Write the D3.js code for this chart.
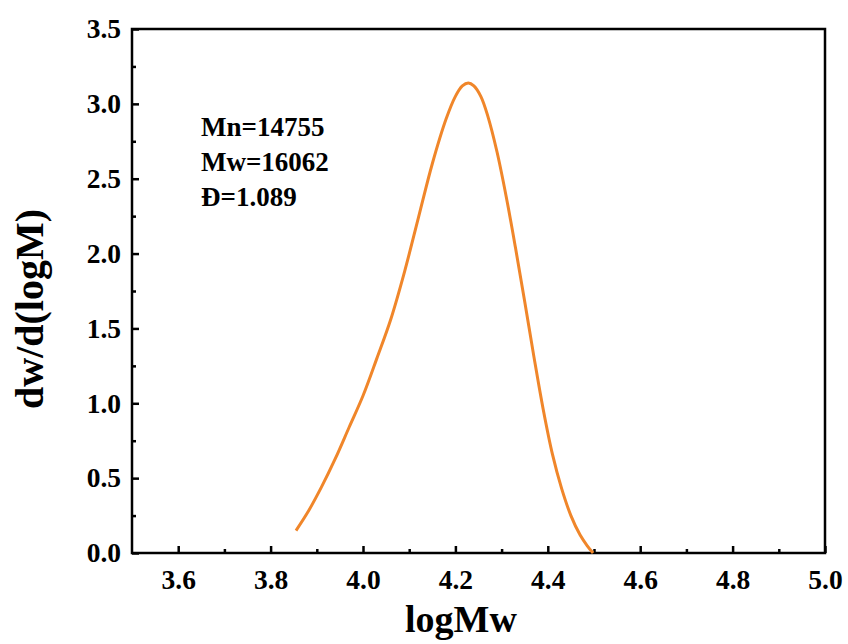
<!DOCTYPE html>
<html>
<head>
<meta charset="utf-8">
<script src="https://cdn.jsdelivr.net/npm/d3@7"></script>
<style>
  body { margin: 0; background: #fff; }
  svg { display: block; font-family: "Liberation Serif", "Times New Roman", serif; font-weight: bold; }
</style>
</head>
<body>
<svg id="chart" width="848" height="644"></svg>
<script>
// Data
const logMw = [3.855, 3.88, 3.91, 3.94, 3.97, 4.00, 4.03, 4.06, 4.09, 4.12, 4.15, 4.18, 4.20, 4.215, 4.228, 4.24, 4.255, 4.27, 4.29, 4.31, 4.33, 4.35, 4.37, 4.39, 4.41, 4.43, 4.45, 4.47, 4.485, 4.498];
const dwdlogM = [0.15, 0.27, 0.44, 0.63, 0.84, 1.05, 1.30, 1.56, 1.88, 2.24, 2.60, 2.90, 3.05, 3.12, 3.14, 3.12, 3.05, 2.92, 2.68, 2.38, 2.04, 1.68, 1.31, 0.96, 0.66, 0.43, 0.25, 0.12, 0.05, 0.0];
const xTicks = [3.6, 3.8, 4.0, 4.2, 4.4, 4.6, 4.8, 5.0];
const xMinor = [3.7, 3.9, 4.1, 4.3, 4.5, 4.7, 4.9];
const yTicks = [0.0, 0.5, 1.0, 1.5, 2.0, 2.5, 3.0, 3.5];
const yMinor = [0.25, 0.75, 1.25, 1.75, 2.25, 2.75, 3.25];
const annotations = ["Mn=14755", "Mw=16062", "Đ=1.089"];
const xTitle = "logMw";
const yTitle = "dw/d(logM)";

const svg = d3.select("#chart");
const m = { left: 132, right: 23, top: 29, bottom: 91 };
const W = 848, H = 644;
const x = d3.scaleLinear().domain([3.5, 5.0]).range([m.left, W - m.right]);
const y = d3.scaleLinear().domain([0, 3.5]).range([H - m.bottom, m.top]);

const tickFont = 27.5;

// minor ticks
svg.append("g").attr("transform", `translate(0,${y(0)})`)
  .call(d3.axisBottom(x).tickValues(xMinor).tickSize(-4).tickFormat(""))
  .call(g => g.select(".domain").remove())
  .call(g => g.selectAll("line").attr("stroke", "#000").attr("stroke-width", 2.5));
svg.append("g").attr("transform", `translate(${x(3.5)},0)`)
  .call(d3.axisLeft(y).tickValues(yMinor).tickSize(-4).tickFormat(""))
  .call(g => g.select(".domain").remove())
  .call(g => g.selectAll("line").attr("stroke", "#000").attr("stroke-width", 2.5));

// major ticks
svg.append("g").attr("transform", `translate(0,${y(0)})`)
  .call(d3.axisBottom(x).tickValues(xTicks).tickSize(-7).tickPadding(16).tickFormat(d3.format(".1f")))
  .call(g => g.select(".domain").remove())
  .call(g => g.selectAll("line").attr("stroke", "#000").attr("stroke-width", 2.5))
  .call(g => g.selectAll("text").attr("fill", "#000").style("font-size", tickFont + "px")
    .style("font-family", "'Liberation Serif', serif").style("font-weight", "bold"));
svg.append("g").attr("transform", `translate(${x(3.5)},0)`)
  .call(d3.axisLeft(y).tickValues(yTicks).tickSize(-7).tickPadding(11).tickFormat(d3.format(".1f")))
  .call(g => g.select(".domain").remove())
  .call(g => g.selectAll("line").attr("stroke", "#000").attr("stroke-width", 2.5))
  .call(g => g.selectAll("text").attr("fill", "#000").style("font-size", tickFont + "px")
    .style("font-family", "'Liberation Serif', serif").style("font-weight", "bold"));

// frame
svg.append("rect")
  .attr("x", x(3.5)).attr("y", y(3.5))
  .attr("width", x(5.0) - x(3.5)).attr("height", y(0) - y(3.5))
  .attr("fill", "none").attr("stroke", "#000").attr("stroke-width", 2.5);

// curve
const line = d3.line()
  .x((d, i) => x(logMw[i]))
  .y((d, i) => y(dwdlogM[i]))
  .curve(d3.curveCatmullRom.alpha(0.5));
svg.append("path")
  .datum(dwdlogM)
  .attr("d", line)
  .attr("fill", "none")
  .attr("stroke", "#f0862a")
  .attr("stroke-width", 3)
  .attr("stroke-linejoin", "round");

// annotations
svg.append("g").selectAll("text").data(annotations).join("text")
  .attr("x", 201)
  .attr("y", (d, i) => 136 + i * 35)
  .style("font-size", "27px")
  .attr("fill", "#000")
  .text(d => d);

// axis titles
svg.append("text")
  .attr("x", 461).attr("y", 632)
  .attr("text-anchor", "middle")
  .style("font-size", "38px")
  .attr("fill", "#000")
  .text(xTitle);
svg.append("text")
  .attr("transform", "translate(43,309) rotate(-90)")
  .attr("text-anchor", "middle")
  .style("font-size", "40px")
  .attr("fill", "#000")
  .text(yTitle);
</script>
</body>
</html>
